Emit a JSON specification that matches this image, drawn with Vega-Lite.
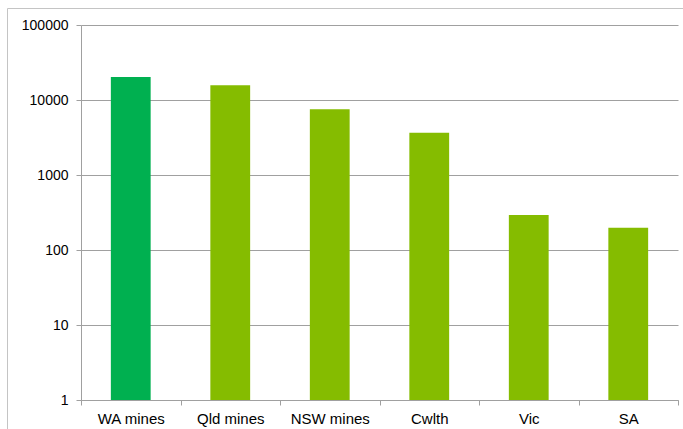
{
  "$schema": "https://vega.github.io/schema/vega-lite/v6.json",
  "width": 680,
  "height": 425,
  "autosize": "none",
  "padding": {"left": 7, "top": 8, "right": 0, "bottom": 0},
  "background": "white",
  "config": {"view": {"stroke": "#C4C4C4", "strokeWidth": 1}, "font": "Liberation Sans"},
  "data": {"values": [
    {"region": "WA mines", "value": 20200},
    {"region": "Qld mines", "value": 15700},
    {"region": "NSW mines", "value": 7500},
    {"region": "Cwlth", "value": 3650},
    {"region": "Vic", "value": 293},
    {"region": "SA", "value": 198}
  ]},
  "mark": {"type": "bar", "width": {"band": 0.4}},
  "encoding": {
    "x": {
      "field": "region", "type": "nominal", "sort": null,
      "scale": {"range": [74, 671], "paddingInner": 0, "paddingOuter": 0},
      "axis": {"title": null, "labelAngle": 0, "offset": -33, "tickBand": "extent",
        "domainColor": "#A0A0A0", "tickColor": "#A0A0A0", "tickSize": 5,
        "labelFontSize": 15, "labelColor": "#000000", "labelPadding": 6, "grid": false}
    },
    "y": {
      "field": "value", "type": "quantitative",
      "scale": {"type": "log", "domain": [1, 100000], "range": [392, 17]},
      "axis": {"title": null, "values": [1, 10, 100, 1000, 10000, 100000], "format": "d",
        "offset": -74, "grid": true, "gridColor": "#A0A0A0",
        "domainColor": "#A0A0A0", "tickColor": "#A0A0A0", "tickSize": 5,
        "labelFontSize": 14, "labelColor": "#000000", "labelPadding": 8}
    },
    "y2": {"datum": 1},
    "color": {
      "field": "region", "type": "nominal", "legend": null,
      "scale": {"domain": ["WA mines", "Qld mines", "NSW mines", "Cwlth", "Vic", "SA"],
        "range": ["#00B050", "#85BC00", "#85BC00", "#85BC00", "#85BC00", "#85BC00"]}
    }
  }
}
